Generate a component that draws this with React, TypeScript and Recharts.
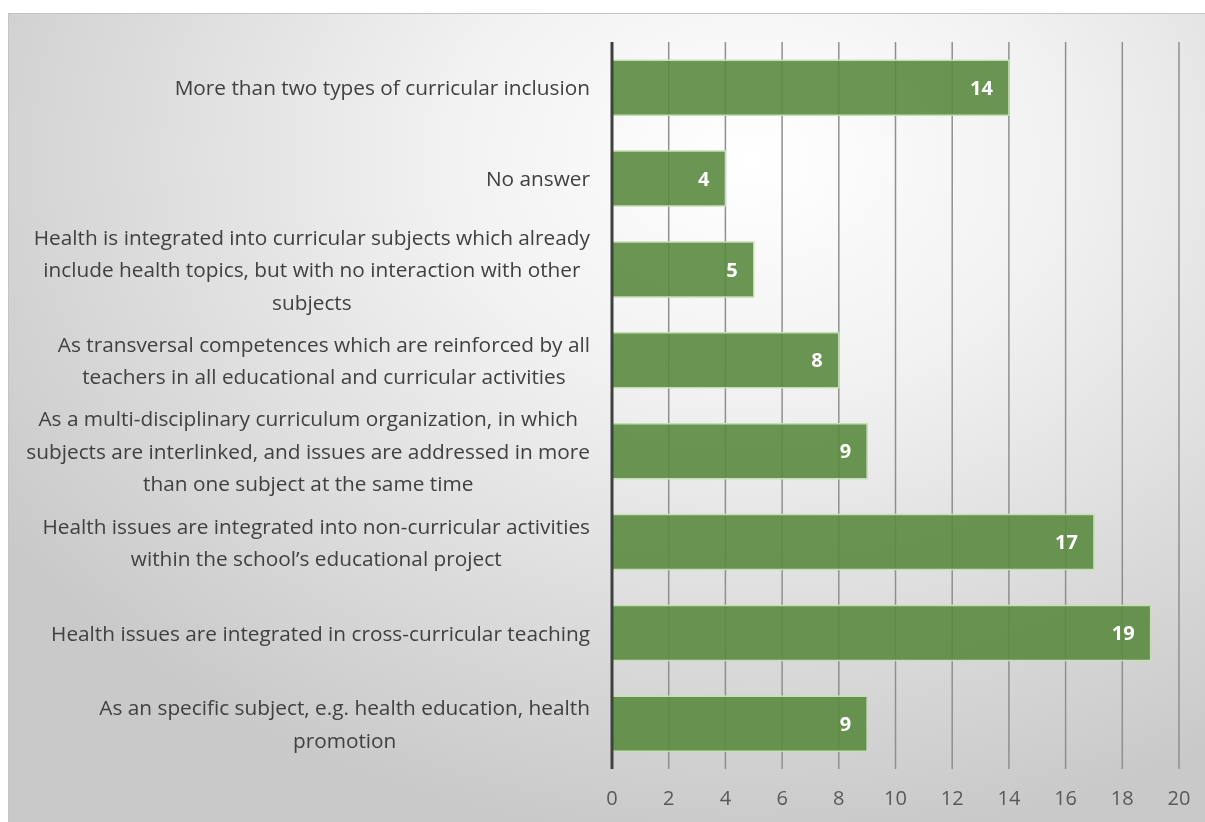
import React from "react";
import { Bar, BarChart, CartesianGrid, LabelList, XAxis, YAxis } from "recharts";

// categories top to bottom, line breaks as in the original figure
const categories: string[][] = [
  ["More than two types of curricular inclusion"],
  ["No answer"],
  [
    "Health is integrated into curricular subjects which already",
    "include health topics, but with no interaction with other",
    "subjects",
  ],
  [
    "As transversal competences which are reinforced by all",
    "teachers in all educational and curricular activities",
  ],
  [
    "As a multi-disciplinary curriculum organization, in which",
    "subjects are interlinked, and issues are addressed in more",
    "than one subject at the same time",
  ],
  [
    "Health issues are integrated into non-curricular activities",
    "within the school\u2019s educational project",
  ],
  ["Health issues are integrated in cross-curricular teaching"],
  ["As an specific subject, e.g. health education, health", "promotion"],
];

const counts = [14, 4, 5, 8, 9, 17, 19, 9];

const xTicks = [0, 2, 4, 6, 8, 10, 12, 14, 16, 18, 20];

const FONT = "'Open Sans', sans-serif";
const LABEL_SIZE = 20.8;
const LINE_HEIGHT = 32.5;

const data = categories.map((lines, i) => ({
  name: lines.join(" "),
  lines,
  value: counts[i],
}));

let ctx: CanvasRenderingContext2D | null = null;
function textWidth(s: string) {
  if (!ctx) ctx = document.createElement("canvas").getContext("2d");
  if (!ctx) return s.length * 9;
  ctx.font = `${LABEL_SIZE}px 'Open Sans'`;
  return ctx.measureText(s).width;
}

// multi-line labels are centred on each other, block right-aligned to the axis
function CategoryTick(props: any) {
  const { x, y, index } = props;
  const lines = data[index]?.lines ?? [String(props.payload.value)];
  const widest = Math.max(...lines.map(textWidth));
  const cx = x - widest / 2;
  const top = y - ((lines.length - 1) * LINE_HEIGHT) / 2;
  return (
    <text
      textAnchor="middle"
      fill="#404040"
      fontSize={LABEL_SIZE}
      fontFamily={FONT}
      dominantBaseline="central"
    >
      {lines.map((l: string, i: number) => (
        <tspan key={i} x={cx} y={top + i * LINE_HEIGHT}>
          {l}
        </tspan>
      ))}
    </text>
  );
}

export default function App() {
  return (
    <div
      style={{
        position: "fixed",
        left: 8,
        top: 13,
        width: 1197,
        height: 809,
        borderTop: "1px solid #c4c4c4",
        borderLeft: "1px solid #c4c4c4",
        boxSizing: "border-box",
        background:
          "radial-gradient(ellipse 75% 85% at 62% 18%, #ffffff 0%, #f1f1f1 35%, #d8d8d8 75%, #c9c9c9 100%)",
      }}
    >
      <BarChart
        width={1196}
        height={808}
        data={data}
        layout="vertical"
        margin={{ top: 28, right: 26, bottom: 8, left: 0 }}
        barCategoryGap="20%"
      >
        <CartesianGrid horizontal={false} stroke="#8f8f8f" strokeWidth={1.5} />
        <XAxis
          type="number"
          domain={[0, 20]}
          ticks={xTicks}
          axisLine={false}
          tickLine={false}
          tickMargin={16}
          tick={{ fill: "#595959", fontSize: 20, fontFamily: FONT }}
          height={45}
        />
        <YAxis
          type="category"
          dataKey="name"
          width={603}
          axisLine={{ stroke: "#404040", strokeWidth: 3 }}
          tickLine={false}
          tickMargin={16}
          tick={<CategoryTick />}
          interval={0}
        />
        <Bar
          dataKey="value"
          fill="#5b8940"
          fillOpacity={0.9}
          stroke="#c5dfb4"
          strokeWidth={1.5}
          isAnimationActive={false}
        >
          <LabelList
            dataKey="value"
            position="insideRight"
            offset={16}
            fill="#ffffff"
            fontSize={20}
            fontWeight="bold"
            fontFamily={FONT}
          />
        </Bar>
      </BarChart>
    </div>
  );
}
